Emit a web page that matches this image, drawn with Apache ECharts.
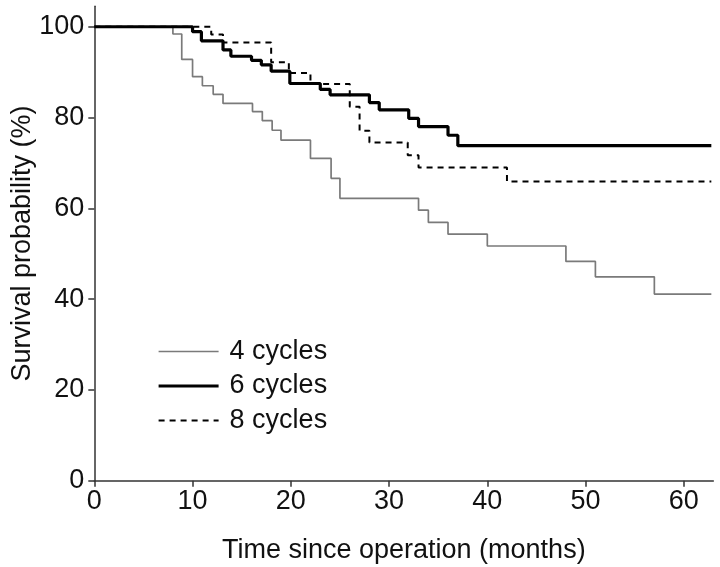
<!DOCTYPE html>
<html>
<head>
<meta charset="utf-8">
<script src="https://cdn.jsdelivr.net/npm/echarts@6/dist/echarts.min.js"></script>
<style>html,body{margin:0;padding:0;background:#fff}#c{width:720px;height:567px}</style>
</head>
<body>
<div id="c"></div>
<script>
// Kaplan-Meier step data (months, survival %)
const t4 = [0, 8, 8.9, 10, 11, 12.1, 13.1, 16.1, 17.1, 18.1, 19, 22, 24.1, 25, 33, 34, 36, 40, 48, 51, 57, 62.8];
const s4 = [100, 98.4, 92.8, 89.0, 87.0, 85.1, 83.1, 81.3, 79.3, 77.2, 75.0, 71.0, 66.6, 62.2, 59.6, 56.9, 54.3, 51.7, 48.3, 44.9, 41.1, 41.1];
const t6 = [0, 10, 10.9, 13.1, 13.9, 16, 17, 18, 19.9, 23, 24, 28, 29, 32, 33, 36, 37, 62.8];
const s6 = [100, 98.9, 96.9, 94.9, 93.5, 92.6, 91.6, 90.2, 87.5, 86.2, 85.0, 83.3, 81.7, 79.8, 78.0, 76.1, 73.8, 73.8];
const t8 = [0, 11.9, 13.1, 18, 19.8, 22, 26, 27, 28, 31.9, 33, 42, 62.8];
const s8 = [100, 98.3, 96.5, 92.2, 89.8, 87.4, 82.4, 77.1, 74.5, 71.7, 69.0, 65.9, 65.9];
const seriesNames = ['4 cycles', '6 cycles', '8 cycles'];
const xTicks = [0, 10, 20, 30, 40, 50, 60];
const yTicks = [0, 20, 40, 60, 80, 100];

const zip = (a, b) => a.map((v, i) => [v, b[i]]);
const font = '"Liberation Sans", Arial, sans-serif';
const axisCol = '#333';
const fs = 27;
const styles = [
  {color: '#7a7a7a', width: 1.7},
  {color: '#000', width: 3.2},
  {color: '#000', width: 2, type: [6, 5]}
];

const chart = echarts.init(document.getElementById('c'), null, {renderer: 'canvas'});
chart.setOption({
  animation: false,
  backgroundColor: '#fff',
  grid: {left: 94.3, right: 6.7, top: 6.3, bottom: 86.3, containLabel: false, outerBoundsMode: 'none'},
  legend: {
    orient: 'vertical', left: 152, top: 333,
    itemWidth: 60, itemHeight: 14, itemGap: 7.5,
    data: seriesNames.map((n, i) => ({name: n, lineStyle: styles[i]})),
    itemStyle: {color: 'transparent', borderWidth: 0, opacity: 0},
    textStyle: {fontFamily: font, fontSize: fs, color: '#111', padding: [0, 0, 0, 6]}
  },
  xAxis: {
    type: 'value', min: 0, max: 63, interval: 10,
    name: 'Time since operation (months)', nameLocation: 'middle', nameGap: 56,
    nameMoveOverlap: false,
    nameTextStyle: {fontFamily: font, fontSize: fs, color: '#111'},
    axisLine: {show: true, lineStyle: {color: axisCol, width: 1.5}},
    axisTick: {show: true, length: 6, lineStyle: {color: axisCol, width: 1.5}, customValues: xTicks},
    axisLabel: {fontFamily: font, fontSize: fs, color: '#111', margin: 7, customValues: xTicks},
    splitLine: {show: false}
  },
  yAxis: {
    type: 'value', min: 0, max: 104.5, interval: 20,
    name: 'Survival probability (%)', nameLocation: 'middle', nameGap: 58, nameRotate: 90,
    nameMoveOverlap: false,
    nameTextStyle: {fontFamily: font, fontSize: fs, color: '#111'},
    axisLine: {show: true, lineStyle: {color: axisCol, width: 1.5}},
    axisTick: {show: true, length: 6, lineStyle: {color: axisCol, width: 1.5}, customValues: yTicks},
    axisLabel: {fontFamily: font, fontSize: fs, color: '#111', margin: 10, customValues: yTicks},
    splitLine: {show: false}
  },
  series: [
    {name: seriesNames[0], type: 'line', step: 'end', symbol: 'none', data: zip(t4, s4),
     lineStyle: styles[0], itemStyle: {color: styles[0].color}},
    {name: seriesNames[1], type: 'line', step: 'end', symbol: 'none', data: zip(t6, s6),
     lineStyle: styles[1], itemStyle: {color: styles[1].color}},
    {name: seriesNames[2], type: 'line', step: 'end', symbol: 'none', data: zip(t8, s8),
     lineStyle: styles[2], itemStyle: {color: styles[2].color}}
  ]
});
</script>
</body>
</html>
